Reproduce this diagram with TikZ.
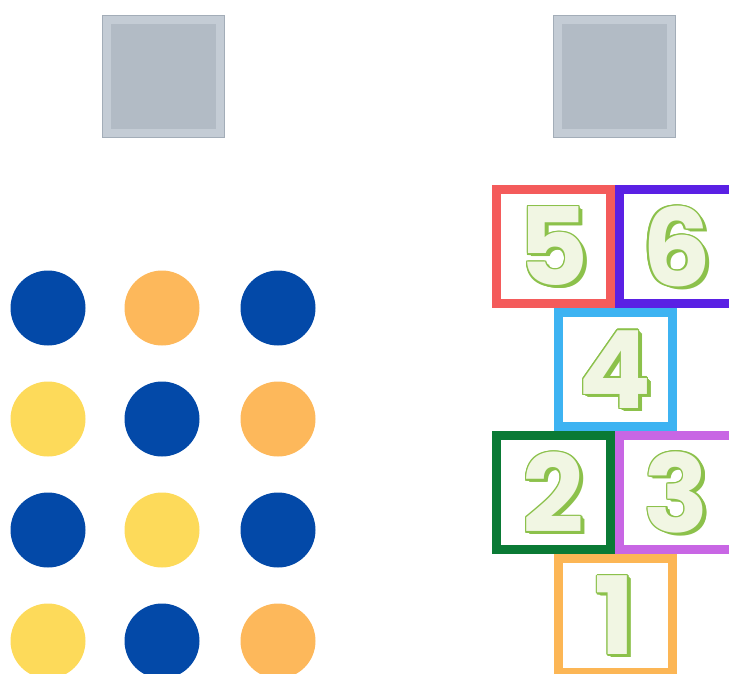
\documentclass[tikz,border=0pt]{standalone}
\usepackage{fontspec}
\newfontfamily\digitfont{Poppins}
\usepackage{xcolor}
\usepackage{tikz}
\usetikzlibrary{positioning}

% mau sac
\definecolor{slotedge}{HTML}{A3ADB8}
\definecolor{slotouter}{HTML}{C4CCD5}
\definecolor{slotinner}{HTML}{B2BBC5}
\definecolor{dotblue}{HTML}{0349A8}
\definecolor{dotorange}{HTML}{FDB85B}
\definecolor{dotyellow}{HTML}{FDDA5A}
\definecolor{boxred}{HTML}{F45B5B}
\definecolor{boxviolet}{HTML}{5A20E4}
\definecolor{boxsky}{HTML}{3DB3F2}
\definecolor{boxgreen}{HTML}{0A7A35}
\definecolor{boxlilac}{HTML}{C866E4}
\definecolor{boxorange}{HTML}{FCB655}
\definecolor{digitgreen}{HTML}{8CC14B}
\definecolor{digitface}{HTML}{F1F6E3}

% chu so noi: bong + vien + mat
\newcommand{\hopdigit}[2]{%
  \foreach \s in {1,...,5}
    \node[digitback] at ([shift={(\s*0.8,\s*0.6)}]#1) {#2};
  \foreach \ang in {0,30,...,330}
    \node[digitback] at ([shift={(\ang:1.4)}]#1) {#2};
  \node[digitfront] at (#1) {#2};
}

\begin{document}
\begin{tikzpicture}[x=1pt, y=-1pt,
    slot/.style={draw=slotedge, line width=0.8pt, fill=slotouter, minimum size=122pt, inner sep=0pt},
    slotin/.style={fill=slotinner, minimum size=105pt, inner sep=0pt},
    dot/.style={circle, fill=#1, minimum size=75pt, inner sep=0pt},
    hopbox/.style={draw=#1, line width=9pt, fill=white, minimum size=114pt, inner sep=0pt},
    digitback/.style={text=digitgreen, inner sep=0pt, font=\digitfont\bfseries\fontsize{108}{108}\selectfont},
    digitfront/.style={text=digitface, inner sep=0pt, font=\digitfont\bfseries\fontsize{108}{108}\selectfont}]

    \useasboundingbox (0,0) rectangle (729,673);
    \clip (0,0) rectangle (729,673);

    % =================================================================
    % 1. HAI O XAM PHIA TREN
    % =================================================================
    \node[slot] (slotL) at (163,76) {};
    \node[slotin] (slotLin) at (slotL) {};
    \node[slot] (slotR) at (614.5,76) {};
    \node[slotin] (slotRin) at (slotR) {};

    % =================================================================
    % 2. LUOI CHAM TRON (4 hang x 3 cot)
    % =================================================================
    \foreach \row/\ca/\cb/\cc in {1/dotblue/dotorange/dotblue,
                                   2/dotyellow/dotblue/dotorange,
                                   3/dotblue/dotyellow/dotblue,
                                   4/dotyellow/dotblue/dotorange} {
        \node[dot=\ca] (c\row-1) at (48, 197+111*\row) {};
        \node[dot=\cb] (c\row-2) at (162, 197+111*\row) {};
        \node[dot=\cc] (c\row-3) at (278, 197+111*\row) {};
    }

    % =================================================================
    % 3. O LO CO (6 o)
    % =================================================================
    \node[hopbox=boxred] (b5) at (553.5,246.5) {};
    \node[hopbox=boxviolet, right=0pt of b5] (b6) {};
    \node[hopbox=boxsky, below=0pt of b5.south east] (b4) {};
    \node[hopbox=boxgreen, below=0pt of b4.south west] (b2) {};
    \node[hopbox=boxlilac, right=0pt of b2] (b3) {};
    \node[hopbox=boxorange, below=0pt of b2.south east] (b1) {};

    % so trong tung o
    \hopdigit{b5}{5}
    \hopdigit{b6}{6}
    \hopdigit{b4}{4}
    \hopdigit{b2}{2}
    \hopdigit{b3}{3}
    \hopdigit{b1}{1}

\end{tikzpicture}
\end{document}
